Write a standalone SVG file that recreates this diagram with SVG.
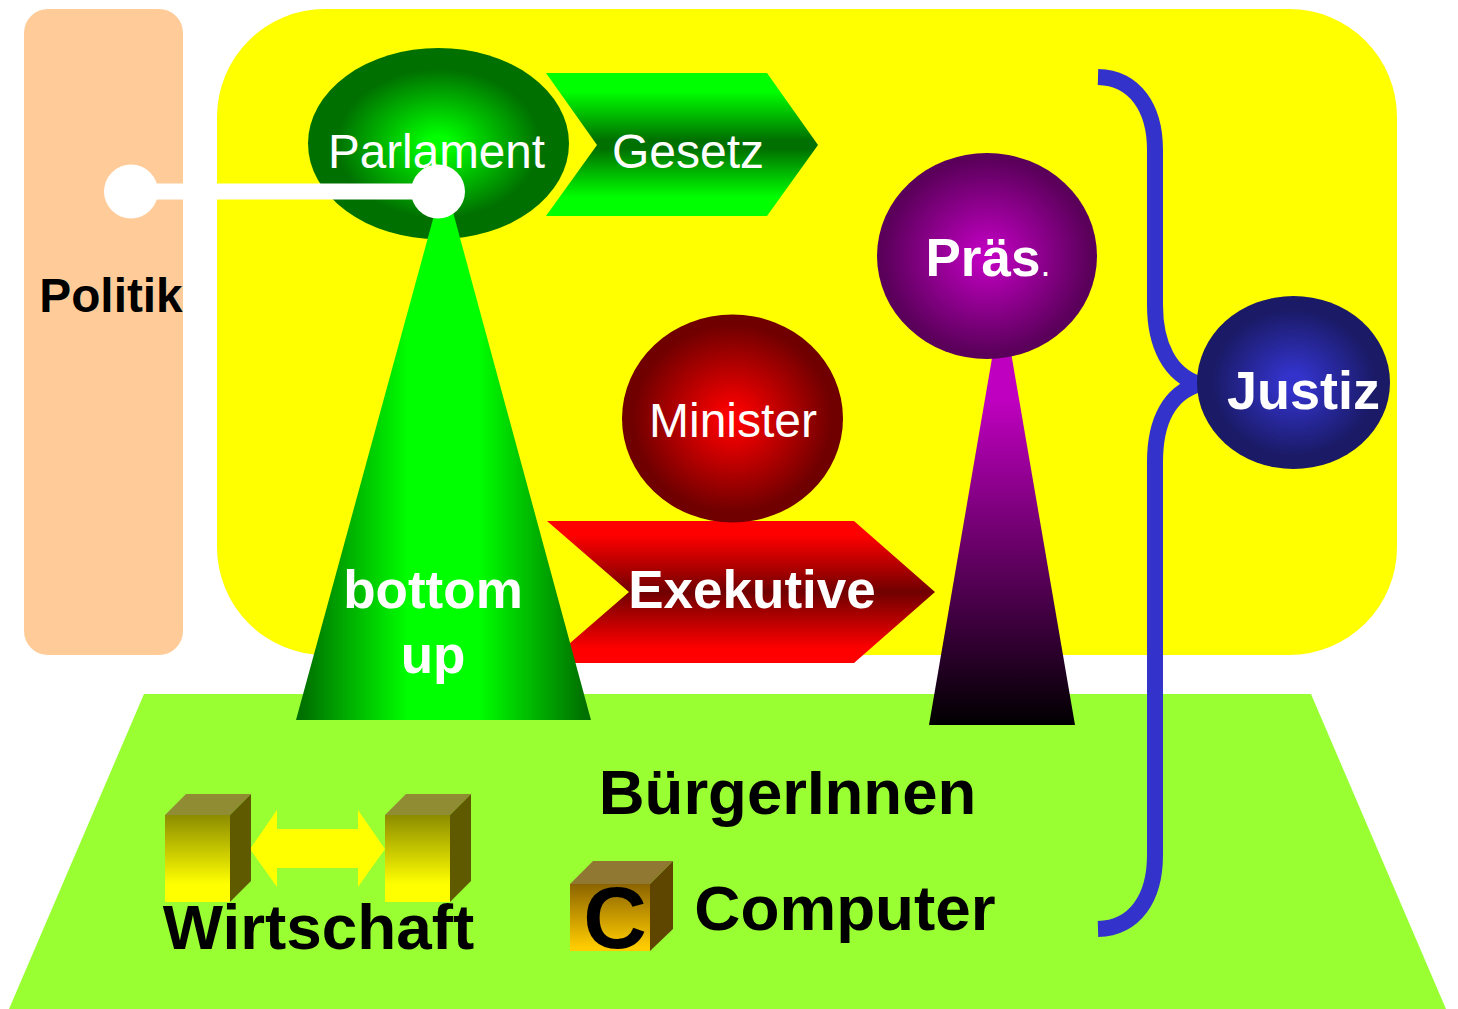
<svg xmlns="http://www.w3.org/2000/svg" width="1458" height="1009" viewBox="0 0 1458 1009">
<style>
text{font-family:"Liberation Sans",Arial,sans-serif;text-anchor:middle}
.w{fill:#fff}.k{fill:#000}.b{font-weight:bold}
</style>
<defs>
<radialGradient id="gG"><stop offset="0.08" stop-color="#0f0"/><stop offset="0.78" stop-color="#007000"/></radialGradient>
<radialGradient id="gR"><stop offset="0.05" stop-color="#f00"/><stop offset="0.9" stop-color="#700000"/></radialGradient>
<radialGradient id="gP"><stop offset="0.05" stop-color="#c000c0"/><stop offset="0.95" stop-color="#5a005a"/></radialGradient>
<radialGradient id="gB"><stop offset="0.1" stop-color="#3333cc"/><stop offset="0.85" stop-color="#1a1a66"/></radialGradient>
<linearGradient id="gArrG" x1="0" y1="0" x2="0" y2="1"><stop offset="0.13" stop-color="#0f0"/><stop offset="0.47" stop-color="#007000"/><stop offset="0.53" stop-color="#007000"/><stop offset="0.87" stop-color="#0f0"/></linearGradient>
<linearGradient id="gArrR" x1="0" y1="0" x2="0" y2="1"><stop offset="0.1" stop-color="#f00"/><stop offset="0.5" stop-color="#700000"/><stop offset="0.9" stop-color="#f00"/></linearGradient>
<linearGradient id="gCone" x1="0" y1="0" x2="1" y2="0"><stop offset="0.02" stop-color="#007000"/><stop offset="0.38" stop-color="#0f0"/><stop offset="0.62" stop-color="#0f0"/><stop offset="0.98" stop-color="#007000"/></linearGradient>
<linearGradient id="gPTri" x1="0" y1="0" x2="0" y2="1"><stop offset="0.23" stop-color="#c000c0"/><stop offset="1" stop-color="#000"/></linearGradient>
<linearGradient id="gY" x1="0" y1="0" x2="0" y2="1"><stop offset="0" stop-color="#8c8c00"/><stop offset="0.8" stop-color="#ff0"/></linearGradient>
<linearGradient id="gO" x1="0" y1="0" x2="0" y2="1"><stop offset="0" stop-color="#8c6400"/><stop offset="0.95" stop-color="#fc0"/></linearGradient>
</defs>
<rect width="1458" height="1009" fill="#fff"/>
<g id="politik"><rect x="24" y="9" width="159" height="646" rx="24" fill="#ffcc99"/>
<text x="111" y="312" font-size="47.800" class="k b">Politik</text></g>
<g id="staat"><rect x="217" y="9" width="1180" height="646" rx="108" fill="#ff0"/></g>
<g id="buerger"><polygon points="144,694 1311,694 1446,1009 9,1009" fill="#9f3"/>
<text x="787.500" y="814" font-size="63.500" class="k b">BürgerInnen</text></g>
<g id="parlament"><ellipse cx="438.500" cy="143.500" rx="130.500" ry="95.500" fill="url(#gG)"/>
<text x="436.500" y="168" font-size="47.600" class="w">Parlament</text></g>
<g id="gesetz"><polygon points="546,73 767,73 818,145 767,216 546,216 597,145" fill="url(#gArrG)"/>
<text x="688" y="168" font-size="48" class="w">Gesetz</text></g>
<g id="exekutive"><polygon points="547,521 854,521 935,592 854,663 547,663 629,592" fill="url(#gArrR)"/>
<text x="752" y="608" font-size="53" class="w b">Exekutive</text></g>
<g id="bottom-up"><polygon points="444,179 591,720 296,720" fill="url(#gCone)"/>
<text x="433" y="608" font-size="53" class="w b">bottom</text>
<text x="433" y="673" font-size="53" class="w b">up</text></g>
<g id="minister"><ellipse cx="732.500" cy="418.500" rx="110.500" ry="104" fill="url(#gR)"/>
<text x="733" y="437" font-size="48" class="w">Minister</text></g>
<g id="praes-stem"><polygon points="1002,300 1075,725 929,725" fill="url(#gPTri)"/></g>
<g id="praes"><ellipse cx="987" cy="256" rx="110" ry="103" fill="url(#gP)"/>
<text x="988" y="276" font-size="53" class="w b">Präs<tspan font-size="36" font-weight="normal">.</tspan></text></g>
<g id="connectors">
<line x1="131" y1="191.500" x2="438" y2="191.500" stroke="#fff" stroke-width="16"/>
<circle cx="131" cy="191.500" r="27" fill="#fff"/>
<circle cx="438" cy="191.500" r="27" fill="#fff"/>
<path d="M1098,77 C1135,78 1155,108 1155,150 L1155,305 C1155,345 1170,375 1199,384 C1170,393 1155,420 1155,462 L1155,855 C1155,898 1135,928 1098,929" fill="none" stroke="#3333cc" stroke-width="16"/>
<polygon points="250,849 277,810 277,829 358,829 358,810 385,849 358,887 358,868 277,868 277,887" fill="#ff0"/>
</g>
<g id="justiz"><ellipse cx="1293.500" cy="382.500" rx="96.500" ry="86.500" fill="url(#gB)"/>
<text x="1303.500" y="409" font-size="54" class="w b">Justiz</text></g>
<g id="box-links"><polygon points="165,815 186,794 251,794 230,815" fill="#908c33"/><polygon points="230,815 251,794 251,881 230,902" fill="#5f5a00"/><rect x="165" y="815" width="65" height="87" fill="url(#gY)"/></g>
<g id="box-rechts"><polygon points="385,815 406,794 471,794 450,815" fill="#908c33"/><polygon points="450,815 471,794 471,881 450,902" fill="#5f5a00"/><rect x="385" y="815" width="65" height="87" fill="url(#gY)"/></g>
<g id="wirtschaft"><text x="318.500" y="949" font-size="63.800" class="k b">Wirtschaft</text></g>
<g id="computer-box"><polygon points="570,884 593,861 673,861 650,884" fill="#907833"/><polygon points="650,884 673,861 673,929 650,951" fill="#5f4600"/><rect x="570" y="884" width="80" height="67" fill="url(#gO)"/>
<text x="615" y="948" font-size="88" class="k b">C</text></g>
<g id="computer"><text x="845" y="930" font-size="63.800" class="k b">Computer</text></g>
</svg>
